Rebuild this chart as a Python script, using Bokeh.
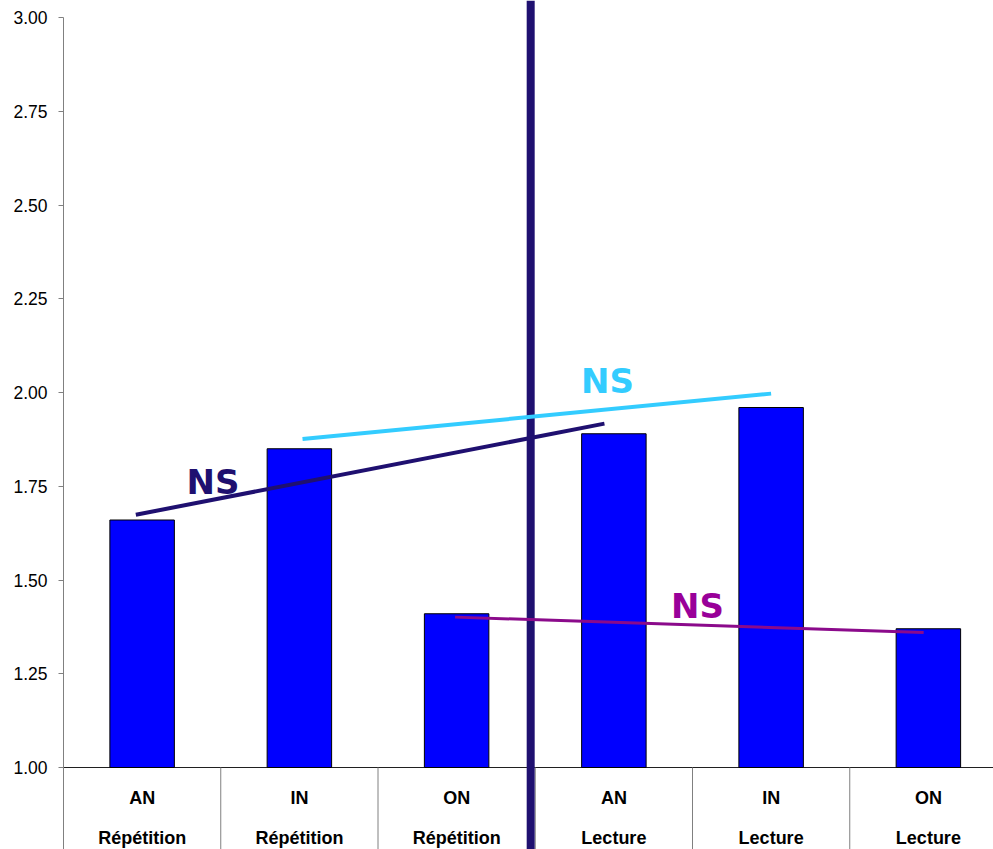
from bokeh.plotting import figure
from bokeh.models import Range1d, FixedTicker, NumeralTickFormatter, ColumnDataSource
from bokeh.core.properties import value
from bokeh.embed import file_html
from bokeh.resources import INLINE

# Mean scores per condition
conditions = ["AN", "IN", "ON", "AN", "IN", "ON"]
tasks = ["Répétition", "Répétition", "Répétition", "Lecture", "Lecture", "Lecture"]
scores = [1.66, 1.85, 1.41, 1.89, 1.96, 1.37]

# Comparison lines (x in category slots, y in score units) and their "NS" labels
trend_navy_x = [0.46, 3.44]
trend_navy_y = [1.674, 1.917]
trend_cyan_x = [1.52, 4.50]
trend_cyan_y = [1.876, 1.997]
trend_purple_x = [2.49, 5.47]
trend_purple_y = [1.401, 1.360]
ns_x = [0.951, 3.459, 4.032]
ns_y = [1.762, 2.032, 1.431]
ns_colors = ["#1f1070", "#33ccff", "#990099"]

y_ticks = [1.0, 1.25, 1.5, 1.75, 2.0, 2.25, 2.5, 2.75, 3.0]

PX_PER_UNIT = 375.0
Y_BOTTOM = 1.0 - 82 / PX_PER_UNIT
Y_TOP = 3.0 + 17 / PX_PER_UNIT
X_END = (993 - 63) / 157.25

p = figure(width=993, height=849, output_backend="svg", toolbar_location=None,
           x_range=Range1d(0, X_END), y_range=Range1d(Y_BOTTOM, Y_TOP),
           x_axis_location=None, min_border_left=63, min_border_right=0,
           min_border_top=0, min_border_bottom=0)
p.outline_line_color = None
p.xgrid.grid_line_color = None
p.ygrid.grid_line_color = None
p.background_fill_color = "white"
p.border_fill_color = "white"

ax = p.yaxis[0]
ax.ticker = FixedTicker(ticks=y_ticks)
ax.formatter = NumeralTickFormatter(format="0.00")
ax.bounds = (Y_BOTTOM, 3.0)
ax.axis_line_color = "#808080"
ax.major_tick_line_color = "#808080"
ax.minor_tick_line_color = None
ax.major_tick_out = 5
ax.major_tick_in = 0
ax.major_label_standoff = 11
ax.major_label_text_font = "Liberation Sans"
ax.major_label_text_font_size = "17.5px"
ax.major_label_text_color = "black"

# Category axis drawn by hand below the baseline
slots = list(range(len(scores)))
centers = [i + 0.5 for i in slots]
p.segment(x0=[0], y0=[1.0], x1=[X_END], y1=[1.0], line_color="#202020", line_width=1)
p.segment(x0=slots[1:], y0=[Y_BOTTOM] * 5, x1=slots[1:], y1=[1.0] * 5,
          line_color="#808080", line_width=1)
p.text(x=centers, y=[0.920] * 6, text=conditions, text_align="center",
       text_baseline="alphabetic", text_font=value("Liberation Sans"),
       text_font_style="bold", text_font_size="18px", text_color="black")
p.text(x=centers, y=[0.812] * 6, text=tasks, text_align="center",
       text_baseline="alphabetic", text_font=value("Liberation Sans"),
       text_font_style="bold", text_font_size="18px", text_color="black")

# Bars
src = ColumnDataSource(dict(x=centers, top=scores))
p.vbar(x="x", top="top", bottom=1.0, width=0.41, source=src,
       fill_color="#0000ff", line_color="black", line_width=1)

# Divider between the two tasks
p.segment(x0=[2.971], y0=[Y_BOTTOM], x1=[2.971], y1=[Y_TOP],
          line_color="#1f1070", line_width=8)

# Comparison lines
p.line(trend_navy_x, trend_navy_y, line_color="#1f1070", line_width=4)
p.line(trend_cyan_x, trend_cyan_y, line_color="#33ccff", line_width=4)
p.line(trend_purple_x, trend_purple_y, line_color="#8b0a8b", line_width=3)

p.text(x=ns_x, y=ns_y, text=["NS", "NS", "NS"], text_color=ns_colors,
       text_align="center", text_baseline="alphabetic",
       text_font=value("DejaVu Sans"), text_font_style="bold",
       text_font_size="34px")

open("out.html", "w").write(file_html(p, INLINE))
